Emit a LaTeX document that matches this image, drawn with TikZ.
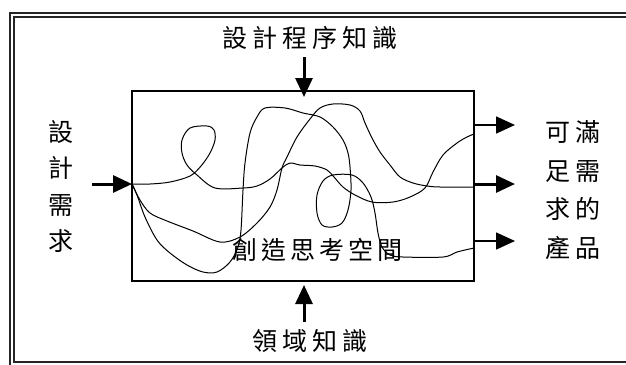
\documentclass[tikz,border=0pt]{standalone}
\usepackage{fontspec}
\newfontfamily\cjk{Noto Sans CJK TC}
\usetikzlibrary{arrows.meta}
\newcommand{\gp}{\kern5pt}
\newcommand{\gq}{\kern4pt}
\tikzset{
  frameline/.style={line width=1.4pt, draw=black!85},
  spacebox/.style={draw, line width=2.8pt, minimum width=342pt, minimum height=190pt, inner sep=0pt},
  path/.style={line width=1pt, smooth, tension=0.55},
  inarrow/.style={line width=3pt, -{Triangle[length=19pt,width=17pt]}},
  outarrow/.style={line width=1.6pt, -{Triangle[length=19pt,width=17pt]}},
  lbl/.style={font=\cjk\fontsize{25pt}{28pt}\selectfont, inner sep=0pt},
}
\begin{document}
\begin{tikzpicture}[x=1pt,y=-1pt]
\path[use as bounding box] (0,0) rectangle (626,364);
\fill[white] (0,0) rectangle (626,364);
% outer double frame
\draw[frameline] (10,370) -- (10,13) -- (640,13);
\draw[frameline] (640,17) -- (14,17) -- (14,362) -- (640,362);
% main box
\node[spacebox] (space) at (303,186) {};
% labels
\node[lbl] (top) at (310,38) {設\gp{}計\gp{}程\gp{}序\gp{}知\gp{}識};
\node[lbl] (bottom) at (310,341) {領\gp{}域\gp{}知\gp{}識};
\node[lbl] (mid) at (317,250) {創\gq{}造\gq{}思\gq{}考\gq{}空\gq{}間};
\node[lbl, align=center, font=\cjk\fontsize{25pt}{36.5pt}\selectfont] (left) at (61,186.5) {設\\計\\需\\求};
\node[lbl, align=center, font=\cjk\fontsize{25pt}{38.7pt}\selectfont] (right) at (573,190) {可\gp{}滿\\足\gp{}需\\求\gp{}的\\產\gp{}品};
% connector end points
\coordinate (p0) at (132,184);
\coordinate (lin) at (92,184);
\coordinate (tin) at (304,57);
\coordinate (tend) at (304,97);
\coordinate (bin) at (304,322);
\coordinate (bend) at (304,285);
\coordinate (r1a) at (474,125);
\coordinate (r1b) at (515,125);
\coordinate (r2a) at (474,184);
\coordinate (r2b) at (515,184);
\coordinate (r3a) at (474,241);
\coordinate (r3b) at (515,241);
% arrows
\draw[inarrow] (lin) -- (p0);
\draw[inarrow] (tin) -- (tend);
\draw[inarrow] (bin) -- (bend);
\draw[outarrow] (r1a) -- (r1b);
\draw[outarrow, line width=3pt] (r2a) -- (r2b);
\draw[outarrow] (r3a) -- (r3b);
% wandering paths
\draw[path] plot coordinates {(132,184) (150,184) (170,182) (190,176) (201,166) (210,153) (215,140) (214,130) (207,126) (190,128) (182,140) (182,153) (187,165) (197,175) (215,188) (243,188) (257,186) (270,179) (282,168) (290,163) (300,165) (315,166) (327,170) (334,177) (343,187) (355,195) (372,202) (393,202) (410,197) (425,188) (433,172) (443,155) (457,143) (467,137) (474,134)};
\draw[path] plot coordinates {(132,184) (140,200) (150,213) (167,221) (193,231) (220,242) (240,237) (257,223) (270,207) (277,190) (282,168) (287,157) (297,137) (310,119) (320,108) (333,104) (350,105) (360,111) (365,123) (372,138) (380,152) (390,165) (400,177) (413,183) (427,186) (440,187) (474,187)};
\draw[path] plot coordinates {(132,184) (137,195) (145,217) (157,240) (170,253) (187,265) (203,272) (217,272) (230,262) (238,247) (241,230) (243,190) (245,163) (250,133) (257,117) (265,108) (285,108) (303,113) (320,117) (333,127) (343,140) (348,153) (350,167) (351,190) (348,210) (342,223) (332,227) (322,225) (317,213) (317,195) (323,181) (333,175) (352,175) (363,183) (371,197) (375,213) (378,233) (382,247) (390,255) (403,257) (443,257) (457,252) (474,248)};
\end{tikzpicture}
\end{document}
